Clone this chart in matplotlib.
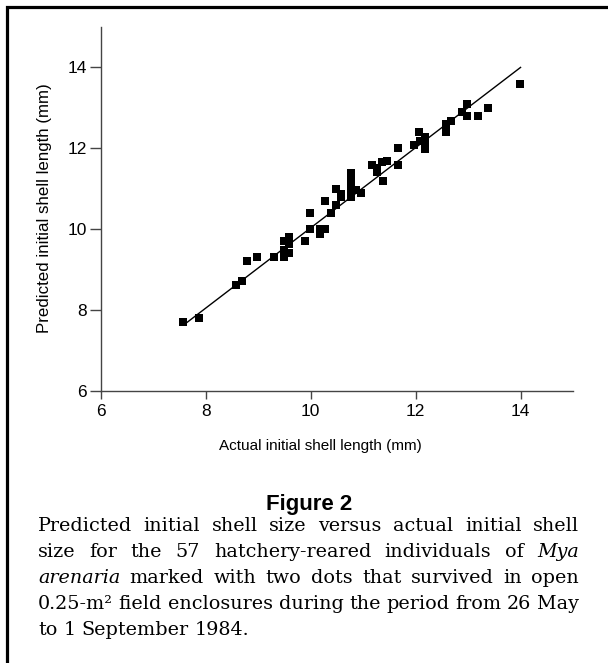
import matplotlib
matplotlib.use("Agg")
import matplotlib.pyplot as plt
from matplotlib.lines import Line2D

# ---- data ----
actual = [7.57, 7.87, 8.58, 8.68, 8.78, 8.98, 9.29, 9.49, 9.59, 9.49, 9.59, 9.49,
          9.59, 9.89, 9.98, 10.18, 10.27, 10.18, 9.98, 10.38, 10.28, 10.48, 10.48,
          10.57, 10.57, 10.76, 10.76, 10.76, 10.76, 10.86, 10.95, 11.17, 11.26,
          11.26, 11.36, 11.45, 11.37, 11.66, 11.66, 11.97, 12.07, 12.17, 12.08,
          12.17, 12.17, 12.58, 12.58, 12.67, 12.88, 12.97, 12.97, 13.18, 13.38, 13.99]
predicted = [7.70, 7.80, 8.61, 8.71, 9.21, 9.31, 9.31, 9.31, 9.41, 9.49, 9.62, 9.70,
             9.80, 9.71, 9.99, 9.99, 9.99, 9.89, 10.40, 10.40, 10.69, 10.60, 11.00,
             10.87, 10.79, 10.79, 11.00, 11.19, 11.38, 10.96, 10.89, 11.59, 11.51,
             11.41, 11.67, 11.68, 11.19, 11.59, 12.00, 12.09, 12.40, 12.29, 12.19,
             12.09, 11.98, 12.39, 12.59, 12.68, 12.89, 13.09, 12.79, 12.79, 12.99, 13.59]
fit_x = [7.6, 14.0]
fit_y = [7.65, 14.0]
ticks = [6, 8, 10, 12, 14]

xlabel = "Actual initial shell length (mm)"
ylabel = "Predicted initial shell length (mm)"
fig_title = "Figure 2"
caption_lines = [
    [("Predicted", "n"), ("initial", "n"), ("shell", "n"), ("size", "n"), ("versus", "n"),
     ("actual", "n"), ("initial", "n"), ("shell", "n")],
    [("size", "n"), ("for", "n"), ("the", "n"), ("57", "n"), ("hatchery-reared", "n"),
     ("individuals", "n"), ("of", "n"), ("Mya", "i")],
    [("arenaria", "i"), ("marked", "n"), ("with", "n"), ("two", "n"), ("dots", "n"),
     ("that", "n"), ("survived", "n"), ("in", "n"), ("open", "n")],
    [("0.25-m\u00b2", "n"), ("field", "n"), ("enclosures", "n"), ("during", "n"),
     ("the", "n"), ("period", "n"), ("from", "n"), ("26", "n"), ("May", "n")],
    [("to", "n"), ("1", "n"), ("September", "n"), ("1984.", "n")],
]
caption_justify = [True, True, True, True, False]

# ---- figure ----
W, H = 608, 663
fig = plt.figure(figsize=(W / 100, H / 100), dpi=100)
fig.patch.set_facecolor("white")

def fx(px):
    return px / W

def fy(py):
    return 1 - py / H

# outer frame (left and top edges)
fig.add_artist(Line2D([fx(6.5), fx(6.5), fx(W)], [fy(H), fy(6.5), fy(6.5)],
                      transform=fig.transFigure, color="black", lw=2.3,
                      solid_joinstyle="miter"))

ax = fig.add_axes([fx(101), fy(390.7), fx(573) - fx(101), fy(27) - fy(390.7)])
ax.scatter(actual, predicted, marker="s", s=34, color="black", linewidths=0, zorder=3)
ax.plot(fit_x, fit_y, color="black", lw=1.0, zorder=2)

ax.set_xlim(6, 15)
ax.set_ylim(6, 15)
ax.set_xticks(ticks)
ax.set_yticks(ticks)
for s in ["top", "right"]:
    ax.spines[s].set_visible(False)
for s in ["left", "bottom"]:
    ax.spines[s].set_color("#444444")
    ax.spines[s].set_linewidth(1.0)
ax.tick_params(axis="x", direction="out", length=5.5, width=1, color="#444444",
               pad=4, labelsize=12.5)
ax.tick_params(axis="y", direction="out", length=8, width=1, color="#444444",
               pad=2, labelsize=12.5)
for lab in ax.get_xticklabels() + ax.get_yticklabels():
    lab.set_fontfamily("Liberation Sans")

fig.text(fx(320), fy(450), xlabel, ha="center", va="baseline",
         fontsize=11, family="Liberation Sans")
fig.text(fx(45), fy(208), ylabel, ha="center", va="center", rotation=90,
         fontsize=12.2, family="Liberation Sans")

fig.text(fx(309), fy(510), fig_title, ha="center", va="baseline",
         fontsize=16, fontweight="bold", family="Liberation Sans")

# justified caption
renderer = fig.canvas.get_renderer()
x_left, x_right = 38, 579
baselines = [530.7, 556.8, 583.0, 609.2, 635.3]
cap_size = 13.8
cap_family = "DejaVu Serif"
space_w = None
for line, just, yb in zip(caption_lines, caption_justify, baselines):
    texts = []
    widths = []
    for word, st in line:
        t = fig.text(0, fy(yb), word, ha="left", va="baseline", fontsize=cap_size,
                     family=cap_family, style="italic" if st == "i" else "normal")
        bb = t.get_window_extent(renderer)
        texts.append(t)
        widths.append(bb.width)
    if space_w is None:
        tt = fig.text(0, 0, "a a", fontsize=cap_size, family=cap_family)
        ta = fig.text(0, 0, "aa", fontsize=cap_size, family=cap_family)
        space_w = tt.get_window_extent(renderer).width - ta.get_window_extent(renderer).width
        tt.remove()
        ta.remove()
    if just and len(line) > 1:
        gap = (x_right - x_left - sum(widths)) / (len(line) - 1)
    else:
        gap = space_w
    x = x_left
    for t, w in zip(texts, widths):
        t.set_x(fx(x))
        x += w + gap

fig.savefig("out.png", dpi=100, facecolor="white")
